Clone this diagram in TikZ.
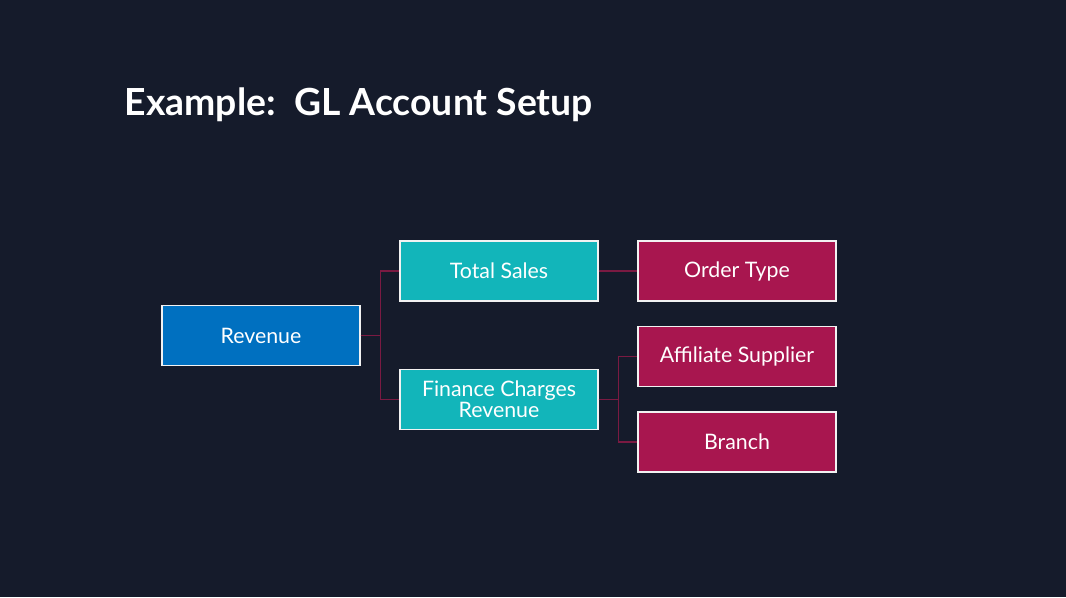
\documentclass[tikz,border=0pt]{standalone}
\usepackage{fontspec}
\setmainfont{Lato}
\definecolor{bg}{HTML}{151B2B}
\definecolor{bl}{HTML}{0070C0}
\definecolor{tl}{HTML}{12B5BA}
\definecolor{mg}{HTML}{A8164F}
\definecolor{ln}{HTML}{7A1A42}
\begin{document}
\begin{tikzpicture}[x=0.75pt,y=-0.75pt,
 box/.style={draw=white!90!gray,line width=0.9pt,text=white,font=\fontsize{16}{18}\selectfont,align=center,minimum width=148.5pt,minimum height=45pt,inner sep=0pt},
 conn/.style={draw=ln,line width=1pt}]
\fill[bg] (0,0) rectangle (1066,597);
\useasboundingbox (0,0) rectangle (1066,597);
\node[anchor=west,text=white,font=\bfseries\fontsize{28}{32}\selectfont] (title) at (120,105) {Example:\ \ GL Account Setup};
\node[box,fill=bl] (rev) at (261,335.5) {Revenue};
\node[box,fill=tl] (ts) at (499,271) {Total Sales};
\node[box,fill=tl] (fc) at (499,399.5) {Finance Charges\\[-2pt]Revenue};
\node[box,fill=mg] (ot) at (737,271) {Order Type};
\node[box,fill=mg] (as) at (737,356.5) {Affiliate Supplier};
\node[box,fill=mg] (br) at (737,442) {Branch};
\draw[conn] (rev.east) -- ++(20,0) |- (ts.west);
\draw[conn] (rev.east) -- ++(20,0) |- (fc.west);
\draw[conn] (ts.east) -- (ot.west);
\draw[conn] (fc.east) -- ++(20,0) |- (as.west);
\draw[conn] (fc.east) -- ++(20,0) |- (br.west);
\end{tikzpicture}
\end{document}
